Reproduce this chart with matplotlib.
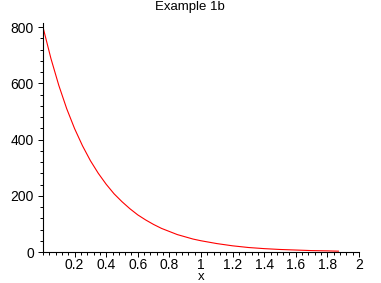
import numpy as np
import matplotlib
matplotlib.use("Agg")
import matplotlib.pyplot as plt
from matplotlib.ticker import MultipleLocator

# Punctele citite de pe curba (x, y)
x_vals = [0.0, 0.05, 0.1, 0.15, 0.2, 0.25, 0.3, 0.35, 0.4, 0.45, 0.5, 0.55,
          0.6, 0.65, 0.7, 0.75, 0.8, 0.85, 0.9, 0.95, 1.0, 1.1, 1.2, 1.3,
          1.4, 1.5, 1.6, 1.7, 1.8, 1.87]
y_vals = [800, 689, 593, 510, 439, 378, 325, 280, 241, 207, 179, 154,
          132, 114, 98, 84, 73, 62, 54, 46, 40, 30, 22, 16,
          12, 9, 7, 5, 4, 3]

x_ticks = [0.2, 0.4, 0.6, 0.8, 1, 1.2, 1.4, 1.6, 1.8, 2]
x_tick_labels = ['0.2', '0.4', '0.6', '0.8', '1', '1.2', '1.4', '1.6', '1.8', '2']
y_ticks = [0, 200, 400, 600, 800]

plt.rcParams['font.family'] = ['Liberation Sans', 'DejaVu Sans']
plt.rcParams['font.size'] = 10

fig = plt.figure(figsize=(3.81, 2.83), dpi=100)
ax = fig.add_axes([43 / 381, 31 / 283, 316 / 381, 229 / 283])

ax.plot(x_vals, y_vals, color='red', linewidth=0.8)

ax.set_xlim(0, 2)
ax.set_ylim(0, 815)
ax.set_xticks(x_ticks)
ax.set_xticklabels(x_tick_labels)
ax.set_yticks(y_ticks)
ax.xaxis.set_minor_locator(MultipleLocator(0.04))
ax.yaxis.set_minor_locator(MultipleLocator(40))
ax.tick_params(which='major', length=3.5, width=0.7, pad=1)
ax.tick_params(which='minor', length=2, width=0.7)
ax.tick_params(axis='y', pad=3)

for side in ['top', 'right']:
    ax.spines[side].set_visible(False)
for side in ['left', 'bottom']:
    ax.spines[side].set_linewidth(0.8)

# eticheta x, centrata sub axa
fig.text(201 / 381, 1 - 280 / 283, 'x', ha='center', va='baseline', fontsize=9.5)
# titlul e ceva mai sus si putin la stanga fata de centrul axelor
fig.text(190 / 381, 1 - 7 / 283, 'Example 1b', ha='center', va='center', fontsize=9.5)

fig.savefig('out.png', dpi=100)
